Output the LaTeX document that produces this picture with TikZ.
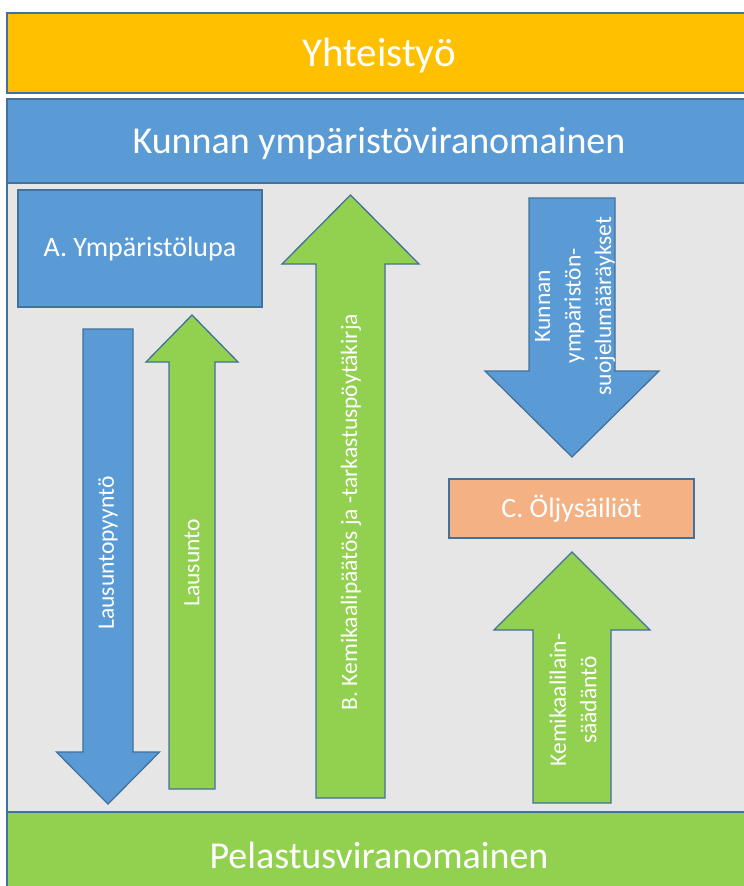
\documentclass[tikz,border=0pt]{standalone}
\usepackage{fontspec}
\setmainfont{Carlito}
\definecolor{cyellow}{HTML}{FFC000}
\definecolor{cblue}{HTML}{5B9BD5}
\definecolor{cgreen}{HTML}{92D050}
\definecolor{cpeach}{HTML}{F4B183}
\definecolor{cgray}{HTML}{E6E6E6}
\definecolor{cedge}{HTML}{41719C}
\tikzset{
  band/.style={draw=cedge, line width=1.5pt},
  shapebox/.style={draw=cedge, line width=1.3pt, line join=miter},
  bandtext/.style={text=white, inner sep=0pt, font=\fontsize{38}{44}\selectfont},
  boxtext/.style={text=white, inner sep=0pt, font=\fontsize{28}{33}\selectfont},
  arrtext/.style={text=white, inner sep=0pt, rotate=90, align=center, font=\fontsize{23.5}{30.5}\selectfont},
}
\begin{document}
\begin{tikzpicture}[x=1pt,y=-1pt]
\useasboundingbox (0,0) rectangle (744,886);
\clip (0,0) rectangle (744,886);
% bands
\fill[white] (0,0) rectangle (744,886);
\draw[band, fill=cyellow] (7,13) rectangle (752,93);
\draw[band, fill=cgray] (7,99) rectangle (752,900);
\draw[band, fill=cblue] (7,99) rectangle (752,183);
\draw[band, fill=cgreen] (7,812) rectangle (752,900);
\node[bandtext, font=\fontsize{41}{48}\selectfont] (yht) at (379,56) {Yhteistyö};
\node[bandtext] (kunta) at (379,143.5) {Kunnan ympäristöviranomainen};
\node[bandtext] (pela) at (379,855) {Pelastusviranomainen};
% boxes
\draw[shapebox, fill=cblue] (18,190) rectangle (262,307);
\node[boxtext] (A) at (140,249) {A. Ympäristölupa};
\draw[shapebox, fill=cpeach] (449,479) rectangle (694,538);
\node[boxtext] (C) at (571.5,509) {C. Öljysäiliöt};
% Lausuntopyynto (down)
\draw[shapebox, fill=cblue] (83,329) -- (133,329) -- (133,752) -- (159.5,752) -- (108,804) -- (56.5,752) -- (83,752) -- cycle;
\node[arrtext] (lp) at (108,553) {Lausuntopyyntö};
% Lausunto (up)
\draw[shapebox, fill=cgreen] (169,789) -- (215,789) -- (215,362) -- (238,362) -- (192,315) -- (146,362) -- (169,362) -- cycle;
\node[arrtext] (lu) at (192,563) {Lausunto};
% B (up)
\draw[shapebox, fill=cgreen] (316,798) -- (385,798) -- (385,264) -- (419,264) -- (350.5,195) -- (282,264) -- (316,264) -- cycle;
\node[arrtext] (B) at (351,512) {B. Kemikaalipäätös ja -tarkastuspöytäkirja};
% Kunnan maaraykset (down)
\draw[shapebox, fill=cblue] (529,198) -- (615,198) -- (615,371) -- (659,371) -- (572,457) -- (485,371) -- (529,371) -- cycle;
\node[arrtext] (km) at (575,306) {Kunnan\\ympäristön-\\suojelumääräykset};
% Kemikaalilainsaadanto (up)
\draw[shapebox, fill=cgreen] (533,803) -- (611,803) -- (611,630) -- (650,630) -- (572,552) -- (494,630) -- (533,630) -- cycle;
\node[arrtext] (kl) at (573,700) {Kemikaalilain-\\säädäntö};
\end{tikzpicture}
\end{document}
